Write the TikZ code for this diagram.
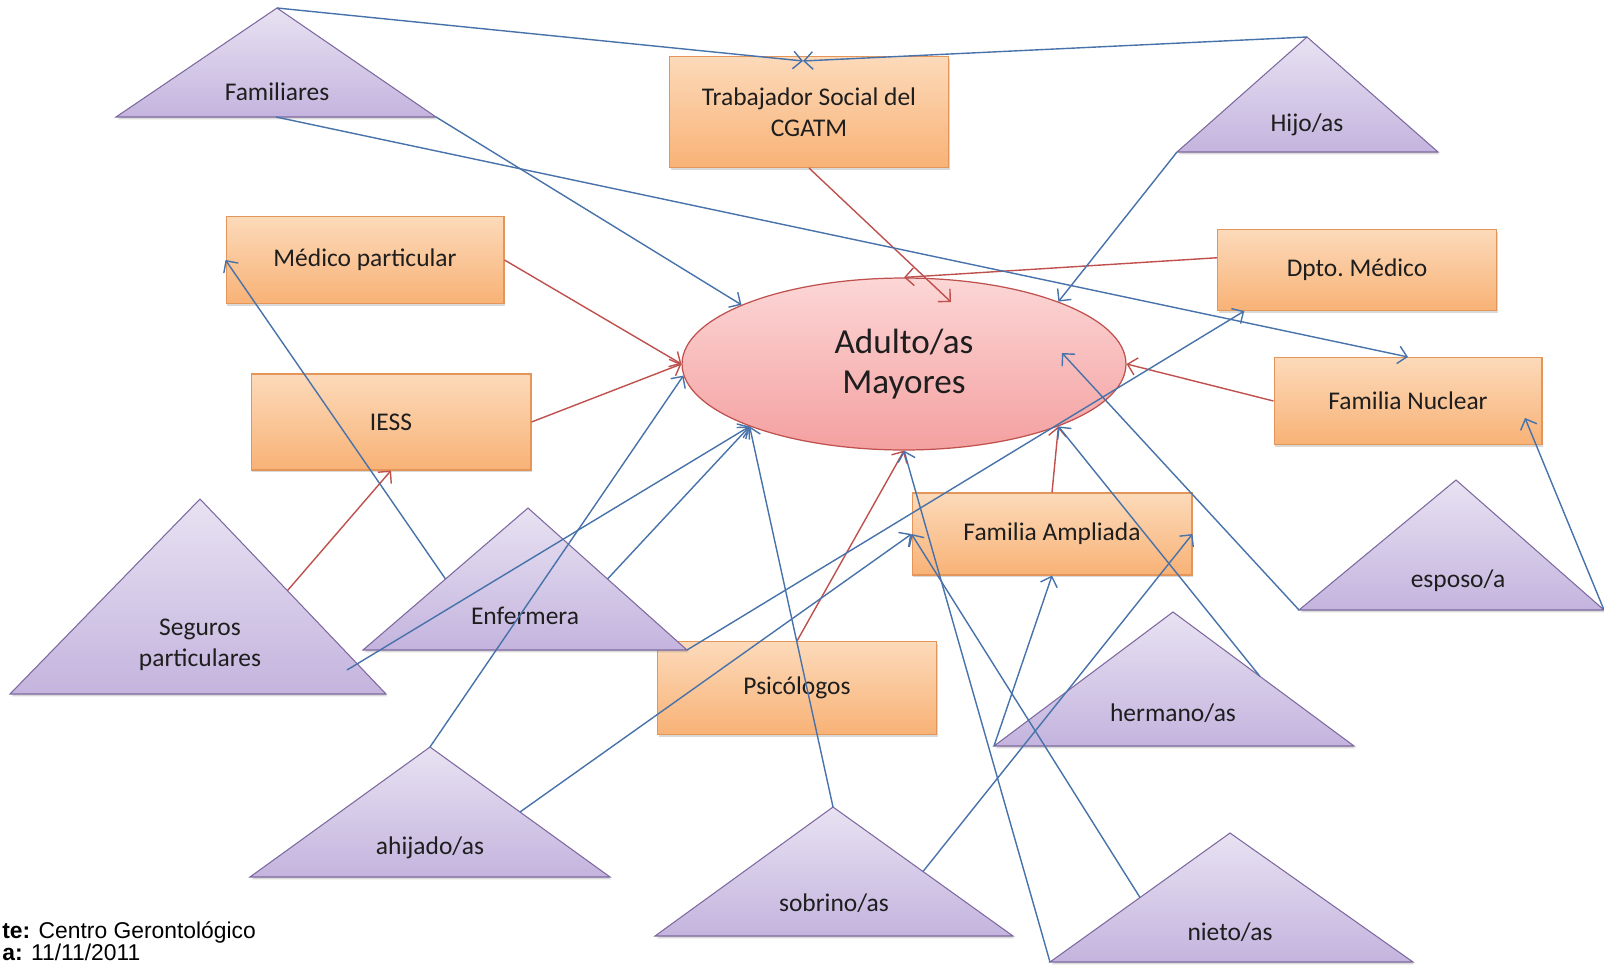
\documentclass[tikz,border=0pt]{standalone}
\usepackage{fontspec}
\setmainfont{Carlito}
\newfontfamily\piefont{Liberation Sans}
\usepackage{tikz}
\usetikzlibrary{arrows.meta,calc,shapes.geometric,shadows}

\definecolor{cajaarriba}{RGB}{252,218,186}
\definecolor{cajaabajo}{RGB}{248,178,118}
\definecolor{cajaborde}{RGB}{228,150,90}
\definecolor{triarriba}{RGB}{232,226,242}
\definecolor{triabajo}{RGB}{196,180,222}
\definecolor{triborde}{RGB}{125,105,160}
\definecolor{elarriba}{RGB}{252,214,214}
\definecolor{elabajo}{RGB}{244,160,160}
\definecolor{elborde}{RGB}{190,80,77}
\definecolor{lineaazul}{RGB}{72,114,170}
\definecolor{linearoja}{RGB}{190,80,77}
\definecolor{texto}{RGB}{30,30,30}

\begin{document}
\begin{tikzpicture}[x=0.02cm,y=-0.02cm]
\useasboundingbox (0,0) rectangle (1604,967);
\tikzstyle{caja}=[rectangle, draw=cajaborde, line width=0.6pt, top color=cajaarriba, bottom color=cajaabajo,
    drop shadow={opacity=0.3, shadow xshift=0.8pt, shadow yshift=-1.4pt},
    text=texto, align=center, font=\fontsize{14.5}{17.5}\selectfont]
\tikzstyle{tri}=[draw=triborde, line width=0.6pt, top color=triarriba, bottom color=triabajo,
    drop shadow={opacity=0.3, shadow xshift=0.8pt, shadow yshift=-1.4pt}]
\tikzstyle{tritexto}=[text=texto, align=center, font=\fontsize{14.5}{17.5}\selectfont]
\tikzstyle{flecha}=[draw=lineaazul, line width=0.8pt, -{Straight Barb[length=5pt,width=10pt]}]
\tikzstyle{flecharoja}=[flecha, draw=linearoja]

\node[ellipse, draw=elborde, line width=0.7pt, top color=elarriba, bottom color=elabajo,
    minimum width=8.88cm, minimum height=3.44cm, text=texto, align=center,
    font=\fontsize{20}{23}\selectfont] (adu) at (904,364) {Adulto/as\\Mayores};

\node[caja, minimum width=5.58cm, minimum height=2.22cm] (trab) at (809,112) {Trabajador Social del\\CGATM};
\node[caja, minimum width=5.56cm, minimum height=1.74cm] (med) at (365,260) {Médico particular};
\node[caja, minimum width=5.60cm, minimum height=1.92cm] (iess) at (391,422) {IESS};
\node[caja, minimum width=5.58cm, minimum height=1.86cm] (psi) at (797,688) {Psicólogos};
\node[caja, minimum width=5.60cm, minimum height=1.64cm] (fa) at (1052,534) {Familia Ampliada};
\node[caja, minimum width=5.58cm, minimum height=1.62cm] (dpto) at (1357,270) {Dpto.\ Médico};
\node[caja, minimum width=5.36cm, minimum height=1.74cm] (fn) at (1408,401) {Familia Nuclear};

\draw[tri] (116,117) coordinate (famL) -- (277,8) coordinate (famA) -- (436,117) coordinate (famR) -- cycle;
\draw[tri] (1177,152) coordinate (hijL) -- (1307,37) coordinate (hijA) -- (1438,152) coordinate (hijR) -- cycle;
\draw[tri] (10,694) coordinate (segL) -- (200,499) coordinate (segA) -- (386,694) coordinate (segR) -- cycle;
\draw[tri] (363,650) coordinate (enfL) -- (528,508) coordinate (enfA) -- (687,650) coordinate (enfR) -- cycle;
\draw[tri] (250,877) coordinate (ahiL) -- (430,747) coordinate (ahiA) -- (610,877) coordinate (ahiR) -- cycle;
\draw[tri] (655,936) coordinate (sobL) -- (833,807) coordinate (sobA) -- (1013,936) coordinate (sobR) -- cycle;
\draw[tri] (1050,962) coordinate (nieL) -- (1230,833) coordinate (nieA) -- (1413,962) coordinate (nieR) -- cycle;
\draw[tri] (994,746) coordinate (herL) -- (1173,612) coordinate (herA) -- (1354,746) coordinate (herR) -- cycle;
\draw[tri] (1299,610) coordinate (espL) -- (1456,480) coordinate (espA) -- (1604,610) coordinate (espR) -- cycle;

\node[tritexto] (famT) at (277,92) {Familiares};
\node[tritexto] (hijT) at (1307,125) {Hijo/as};
\node[tritexto] (segT) at (200,645) {Seguros\\particulares};
\node[tritexto] (enfT) at (525,616) {Enfermera};
\node[tritexto] (ahiT) at (430,848) {ahijado/as};
\node[tritexto] (sobT) at (834,903) {sobrino/as};
\node[tritexto] (nieT) at (1230,932) {nieto/as};
\node[tritexto] (herT) at (1173,713) {hermano/as};
\node[tritexto] (espT) at (1458,581) {esposo/a};
\coordinate (segIn) at (347,670);
\coordinate (trabIn) at ($(trab.north)+(-6,5)$);

\draw[flecharoja] (trab.south) -- ($(adu)+(47,-62)$);
\draw[flecharoja] (dpto.175) -- (adu.north);
\draw[flecharoja] (med.east) -- (adu.west);
\draw[flecharoja] (iess.east) -- (adu.west);
\draw[flecharoja] ($(segA)!.47!(segR)$) -- (iess.south);
\draw[flecharoja] (psi.north) -- (adu.south);
\draw[flecharoja] (fa.north) -- (adu.-22);
\draw[flecharoja] (fn.west) -- (adu.east);

\draw[flecha] (famA) -- (trabIn);
\draw[flecha] (hijA) -- (trabIn);
\draw[flecha] (famR) -- (adu.160);
\draw[flecha] ($(famL)!.5!(famR)$) -- (fn.north);
\draw[flecha] (hijL) -- (adu.22);
\draw[flecha] ($(enfA)!.5!(enfL)$) -- (med.west);
\draw[flecha] (segIn) -- (adu.202);
\draw[flecha] ($(enfA)!.5!(enfR)$) -- (adu.202);
\draw[flecha] (ahiA) -- (adu.183);
\draw[flecha] ($(ahiA)!.5!(ahiR)$) -- (fa.west);
\draw[flecha] (enfR) -- (dpto.200);
\draw[flecha] (sobA) -- (adu.202);
\draw[flecha] (nieL) -- (adu.south);
\draw[flecha] ($(nieA)!.5!(nieL)$) -- (fa.west);
\draw[flecha] ($(sobA)!.5!(sobR)$) -- (fa.east);
\draw[flecha] (herL) -- (fa.south);
\draw[flecha] ($(herA)!.48!(herR)$) -- (adu.-22);
\draw[flecha] (espL) -- ($(adu)+(158,-11)$);
\draw[flecha] (espR) -- ($(fn)+(117,17)$);

\node[anchor=base west, inner sep=0pt, font=\piefont\fontsize{13}{16}\selectfont] (fuente) at (2,938) {\textbf{te:} Centro Gerontológico};
\node[anchor=base west, inner sep=0pt, font=\piefont\fontsize{13}{16}\selectfont] (fecha) at (2,960) {\textbf{a:} 11/11/2011};
\end{tikzpicture}
\end{document}
